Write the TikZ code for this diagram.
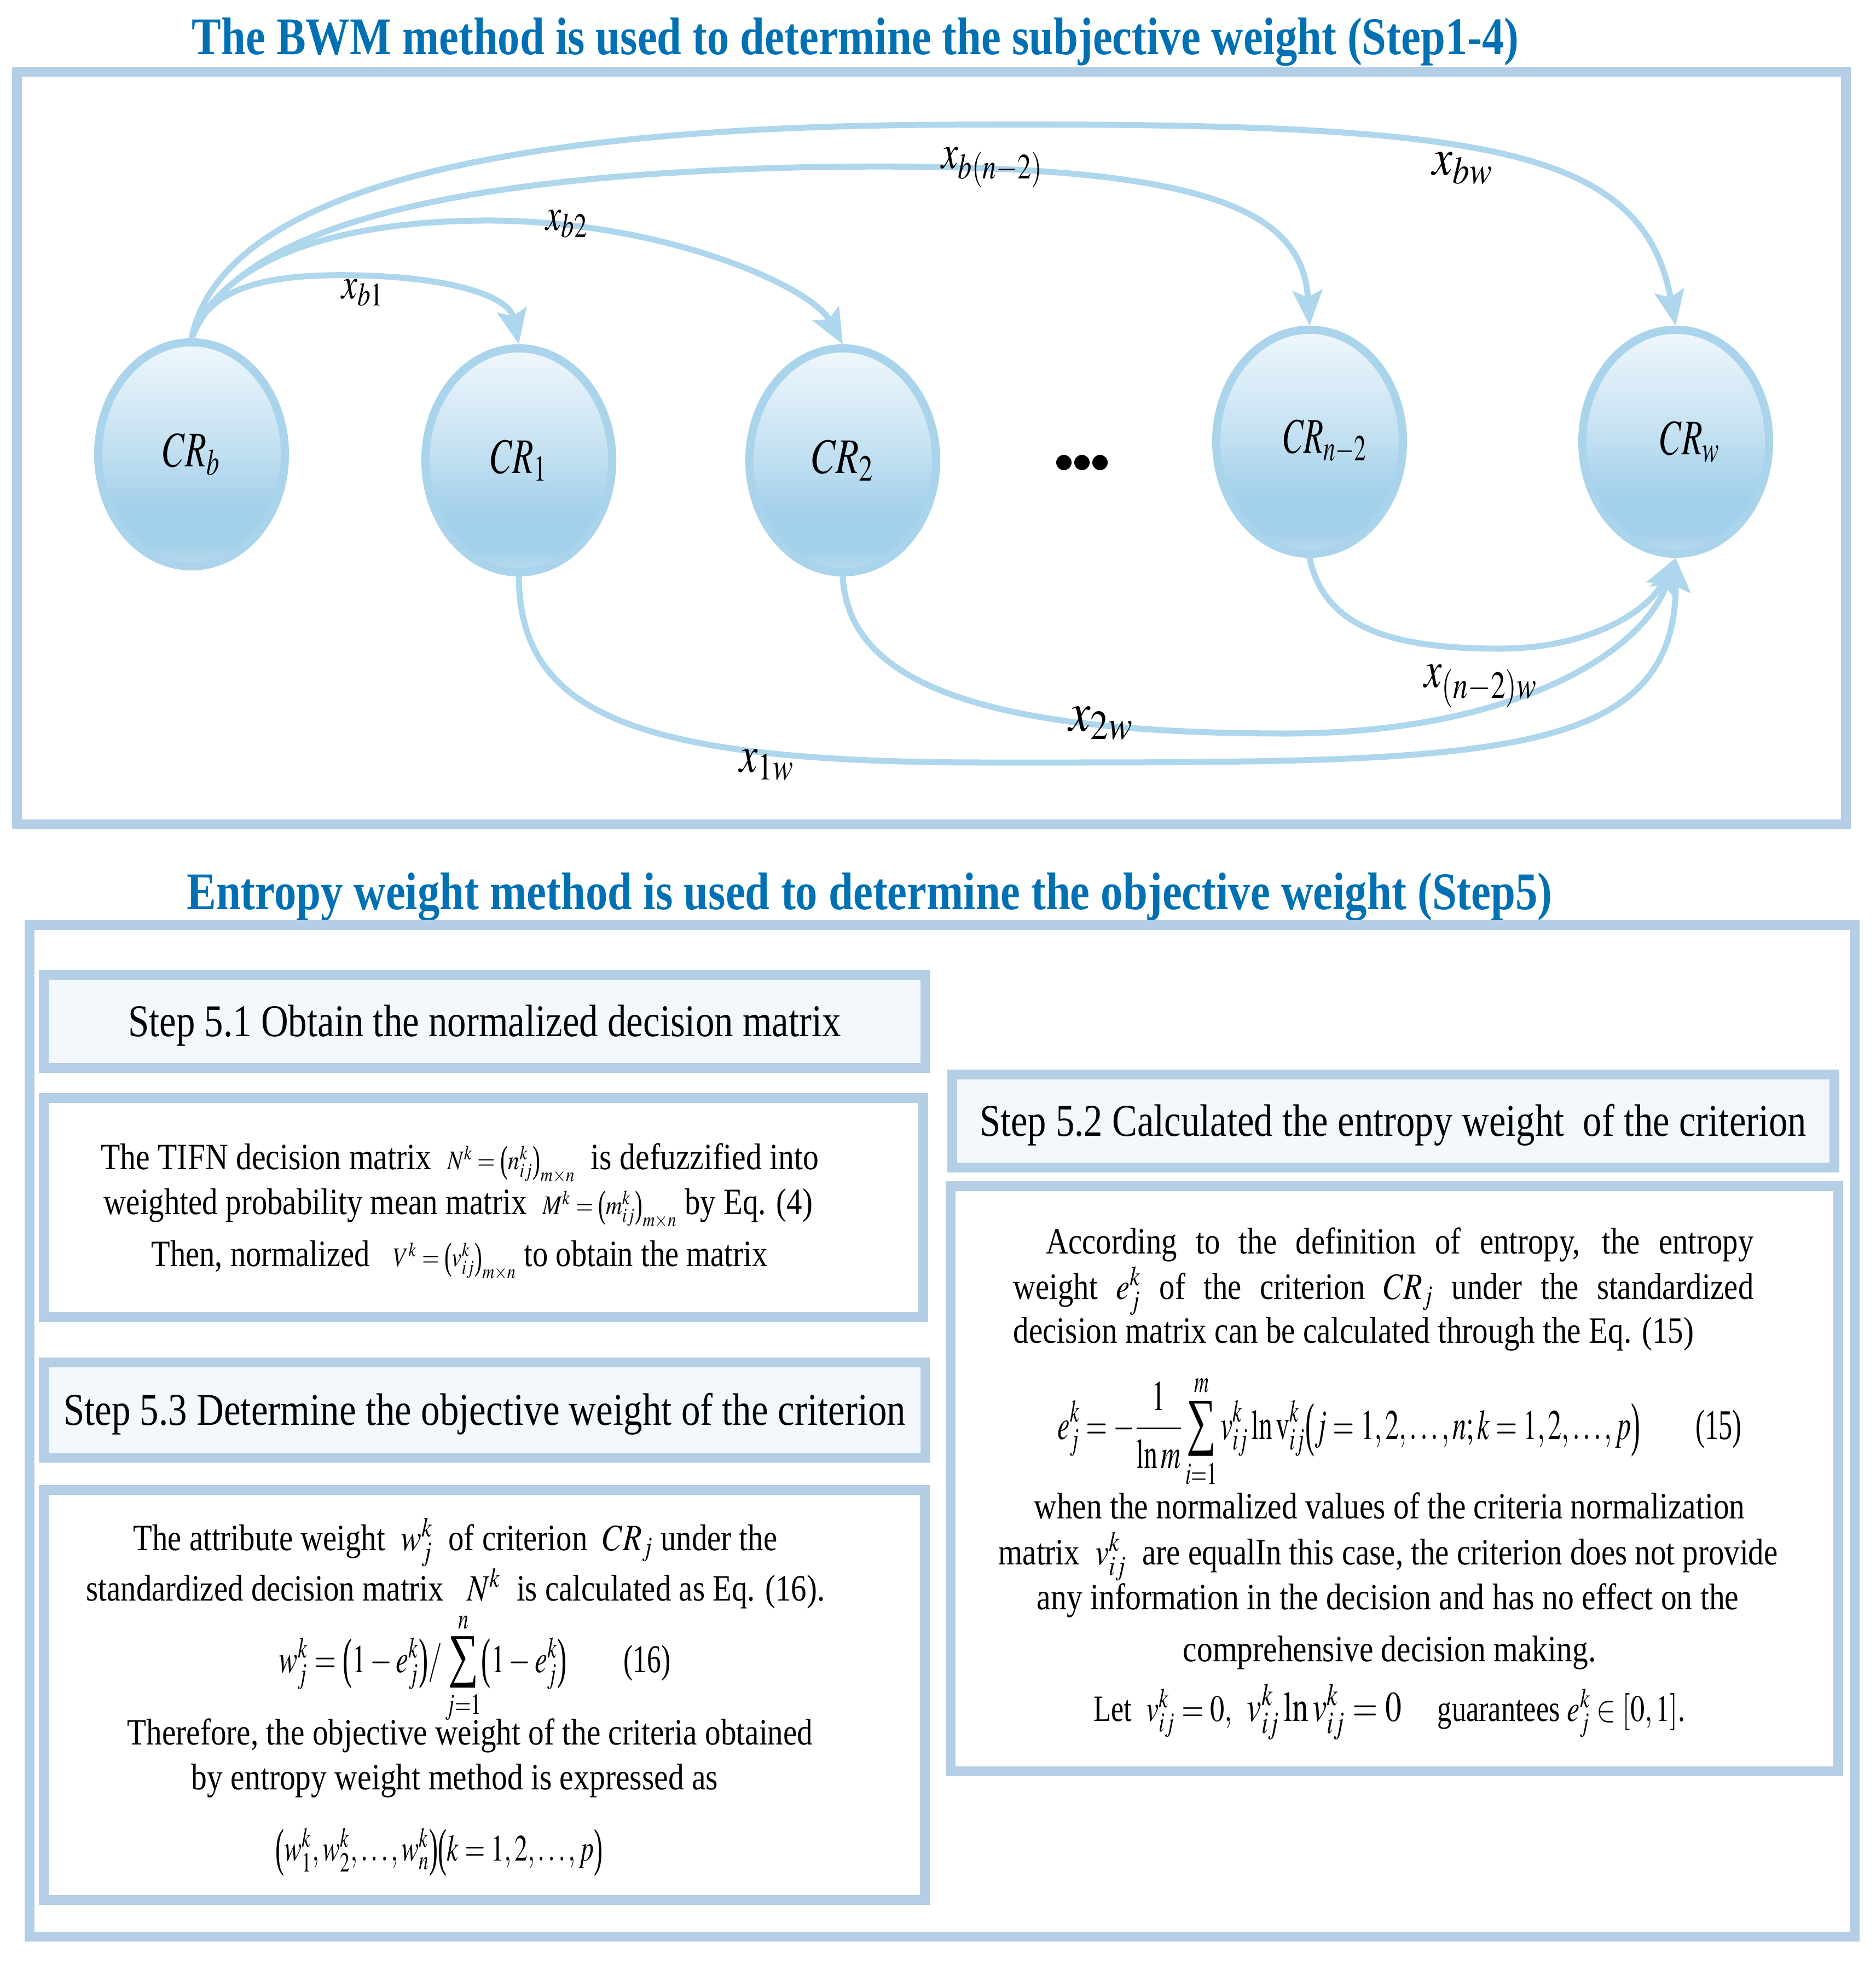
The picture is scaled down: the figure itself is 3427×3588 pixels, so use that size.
\documentclass[tikz,border=0pt]{standalone}
\usepackage{mathptmx}
\usepackage{fontspec}
\setmainfont{Liberation Serif}
\usepackage{graphicx}
\usetikzlibrary{shapes.geometric,arrows.meta}
\definecolor{titleblue}{RGB}{0,112,180}
\definecolor{boxline}{RGB}{180,206,230}
\definecolor{hdrfill}{RGB}{243,248,252}
\definecolor{arrcol}{RGB}{174,214,236}
\definecolor{ellline}{RGB}{170,212,236}
\definecolor{ellT}{RGB}{240,247,252}
\definecolor{ellM}{RGB}{196,225,242}
\definecolor{ellD}{RGB}{163,208,234}
\definecolor{ellB}{RGB}{186,220,239}
\pgfdeclareverticalshading{ellshade}{100bp}{color(0bp)=(ellB); color(25bp)=(ellB); color(30bp)=(ellD); color(38bp)=(ellD); color(52bp)=(ellM); color(75bp)=(ellT); color(100bp)=(ellT)}
\newcommand{\fitw}[2]{\resizebox{#1}{\height}{#2}}
\newcommand{\jfit}[3]{\resizebox{#1}{\height}{\makebox[#2][s]{#3}}}
\newcommand{\fsz}[1]{\fontsize{#1}{#1}\selectfont}
\newcommand{\sm}[1]{{\fsz{14pt}$#1$}}
\newcommand{\lp}{\mathopen{\hbox{\raisebox{-0.12em}{\scalebox{1}[1.4]{(}}}}}
\newcommand{\rp}{\mathclose{\hbox{\raisebox{-0.12em}{\scalebox{1}[1.4]{)}}}}}
\newcommand{\bigsum}[2]{\mathop{\vcenter{\hbox{\scalebox{1.5}{∑}}}}\limits_{#1}^{#2}}
\begin{document}
\begin{tikzpicture}[x=0.01cm,y=-0.01cm,
  boxframe/.style={draw=boxline,line width=0.18cm,inner sep=0,outer sep=0},
  hdr/.style={boxframe,fill=hdrfill,text height=0.70cm,text depth=0.16cm,font=\fsz{23.6pt}},
  ell/.style={ellipse,draw=ellline,line width=0.15cm,shade,shading=ellshade,minimum width=3.41cm,minimum height=4.09cm,inner sep=0,font=\fsz{25.8pt}},
  arr/.style={draw=arrcol,line width=0.11cm,-{Stealth[length=0.64cm,width=0.54cm,inset=0.12cm]}},
  ttl/.style={anchor=base,inner sep=0,font=\fsz{27.5pt}\bfseries,text=titleblue},
  bt/.style={anchor=base,inner sep=0,font=\fsz{19.3pt}},
  elab/.style={anchor=base west,inner sep=0},
  dotst/.style={fill=black}
]
\useasboundingbox (0,0) rectangle (3427,3588);

% titles
\node[ttl] (title1) at (1563,100) {\fitw{24.23cm}{The BWM method is used to determine the subjective weight (Step1-4)}};
\node[ttl] (title2) at (1589,1661) {\fitw{24.94cm}{Entropy weight method is used to determine the objective weight (Step5)}};

% frames
\node[boxframe,minimum width=33.40cm,minimum height=13.75cm] (topbox) at (1702,818.5) {};
\node[boxframe,minimum width=33.33cm,minimum height=18.46cm] (botbox) at (1721.5,2614) {};

% criteria ellipses
\node[ell] (nb) at (350,830) {\fitw{1.04cm}{$CR_b$}};
\node[ell] (n1) at (948,841) {\fitw{1.03cm}{$CR_1$}};
\node[ell] (n2) at (1540,841) {\fitw{1.13cm}{$CR_2$}};
\node[ell] (nm) at (2393,807) {\kern0.56cm\fitw{1.52cm}{$CR_{n-2}$}};
\node[ell] (nw) at (3062,807) {\kern0.52cm\fitw{1.09cm}{$CR_w$}};

% dots
\fill[dotst] (1944,845) ellipse [x radius=0.14cm,y radius=0.14cm];
\fill[dotst] (1977,845) ellipse [x radius=0.14cm,y radius=0.14cm];
\fill[dotst] (2010,845) ellipse [x radius=0.14cm,y radius=0.14cm];

% arrows from best
\draw[arr] (nb.north) .. controls (380,520) and (500,500) .. (650,503) .. controls (820,506) and (930,540) .. (n1.north);
\draw[arr] (nb.north) .. controls (400,480) and (600,405) .. (880,403) .. controls (1200,400) and (1480,520) .. (n2.north);
\draw[arr] (nb.north) .. controls (420,450) and (700,320) .. (1500,305) .. controls (2200,295) and (2380,380) .. (nm.north);
\draw[arr] (nb.north) .. controls (400,380) and (800,235) .. (1700,228) .. controls (2700,222) and (3000,260) .. (nw.north);

% arrows to worst
\draw[arr] (n1.south) .. controls (950,1300) and (1150,1393) .. (1800,1393) .. controls (2700,1393) and (3062,1400) .. (nw.south);
\draw[arr] (n2.south) .. controls (1550,1250) and (1800,1340) .. (2350,1340) .. controls (2750,1340) and (3000,1200) .. (nw.south);
\draw[arr] (nm.south) .. controls (2420,1150) and (2550,1185) .. (2740,1185) .. controls (2900,1185) and (3010,1120) .. (nw.south);

% edge labels
\node[elab,font=\fsz{23pt}] (lb1) at (624,545) {\fitw{0.77cm}{$x_{b1}$}};
\node[elab,font=\fsz{24pt}] (lb2) at (997,420) {\fitw{0.76cm}{$x_{b2}$}};
\node[elab,font=\fsz{25pt}] (lbn) at (1720,308) {\fitw{1.85cm}{$x_{b(n-2)}$}};
\node[elab,font=\fsz{27pt}] (lbw) at (2617,320) {\fitw{1.10cm}{$x_{bw}$}};
\node[elab,font=\fsz{27pt}] (lnw) at (2602,1255) {\fitw{2.06cm}{$x_{(n-2)w}$}};
\node[elab,font=\fsz{29pt}] (l2w) at (1953,1335) {\fitw{1.17cm}{$x_{2w}$}};
\node[elab,font=\fsz{27pt}] (l1w) at (1351,1410) {\fitw{0.99cm}{$x_{1w}$}};

% lower section boxes
\node[hdr,minimum width=16.11cm,minimum height=1.705cm] (s51) at (885.5,1866) {\fitw{13.02cm}{Step 5.1 Obtain the normalized decision matrix}};
\node[boxframe,minimum width=16.07cm,minimum height=4.005cm] (b1) at (883.5,2206) {};
\node[hdr,minimum width=16.11cm,minimum height=1.74cm] (s53) at (885.5,2576) {\fitw{15.38cm}{Step 5.3 Determine the objective weight of the criterion}};
\node[boxframe,minimum width=16.10cm,minimum height=7.49cm] (b3) at (885,3096.5) {};
\node[hdr,minimum width=16.11cm,minimum height=1.695cm] (s52) at (2545.5,2048) {\fitw{15.10cm}{Step 5.2 Calculated the entropy weight\ \ of the criterion}};
\node[boxframe,minimum width=16.21cm,minimum height=10.69cm] (b2) at (2547.5,2701.5) {};

% box 1 text
\node[bt] (t1a) at (840.5,2136) {\fitw{13.11cm}{The TIFN decision matrix \ \sm{N^{k}=\lp n_{ij}^{k}\rp_{m\times n}} \ is defuzzified into}};
\node[bt] (t1b) at (837.5,2218) {\fitw{12.95cm}{weighted probability mean matrix \ \sm{M^{k}=\lp m_{ij}^{k}\rp_{m\times n}} by Eq. (4)}};
\node[bt] (t1c) at (839.5,2313) {\fitw{11.25cm}{Then, normalized \ \ \sm{V^{k}=\lp v_{ij}^{k}\rp_{m\times n}} to obtain the matrix}};

% box 3 text
\node[bt] (t3a) at (832,2832) {\fitw{11.76cm}{The attribute weight \ $w_{j}^{k}$ \ of criterion \ $CR_{j}$ under the}};
\node[bt] (t3b) at (832.5,2924) {\fitw{13.49cm}{standardized decision matrix \ \ $N^{k}$ \ is calculated as Eq. (16).}};
\node[bt,font=\fsz{20.5pt}] (t3c) at (867.5,3055) {\fitw{7.15cm}{$w_{j}^{k}=\lp 1-e_{j}^{k}\rp/\bigsum{j=1}{n}\lp 1-e_{j}^{k}\rp$\qquad(16)}};
\node[bt] (t3d) at (859,3187) {\fitw{12.52cm}{Therefore, the objective weight of the criteria obtained}};
\node[bt] (t3e) at (831,3269) {\fitw{9.62cm}{by entropy weight method is expressed as}};
\node[bt] (t3f) at (802.5,3399) {\fitw{5.97cm}{$\lp w_{1}^{k},w_{2}^{k},\ldots,w_{n}^{k}\rp\lp k=1,2,\ldots,p\rp$}};

% box 2 text
\node[bt] (t2a) at (2558,2290) {\jfit{12.92cm}{15.47cm}{According to the definition of entropy, the entropy}};
\node[bt] (t2b) at (2528,2373) {\jfit{13.52cm}{16.19cm}{weight $e_{j}^{k}$ of the criterion $CR_{j}$ under the standardized}};
\node[bt] (t2c) at (2473.5,2453) {\fitw{12.43cm}{decision matrix can be calculated through the Eq. (15)}};
\node[bt,font=\fsz{22pt}] (t2d) at (2557.5,2629) {\fitw{12.49cm}{$\displaystyle e_{j}^{k}=-\frac{1}{\ln m}\bigsum{i=1}{m}v_{ij}^{k}\ln\mathrm{v}_{ij}^{k}\lp j=1,2,\ldots,n;k=1,2,\ldots,p\rp$\qquad(15)}};
\node[bt] (t2e) at (2539,2774) {\fitw{12.98cm}{when the normalized values of the criteria normalization}};
\node[bt] (t2f) at (2536.5,2858) {\fitw{14.23cm}{matrix \ $v_{ij}^{k}$ \ are equalIn this case, the criterion does not provide}};
\node[bt] (t2g) at (2536,2940) {\fitw{12.82cm}{any information in the decision and has no effect on the}};
\node[bt] (t2h) at (2539,3035) {\fitw{7.54cm}{comprehensive decision making.}};
\node[bt] (t2i) at (2539,3144) {\fitw{10.80cm}{Let \ $v_{ij}^{k}=0,$ \ {\fsz{22pt}$v_{ij}^{k}\ln v_{ij}^{k}=0$}\quad\ guarantees $e_{j}^{k}\in[0,1]$.}};
\end{tikzpicture}
\end{document}
